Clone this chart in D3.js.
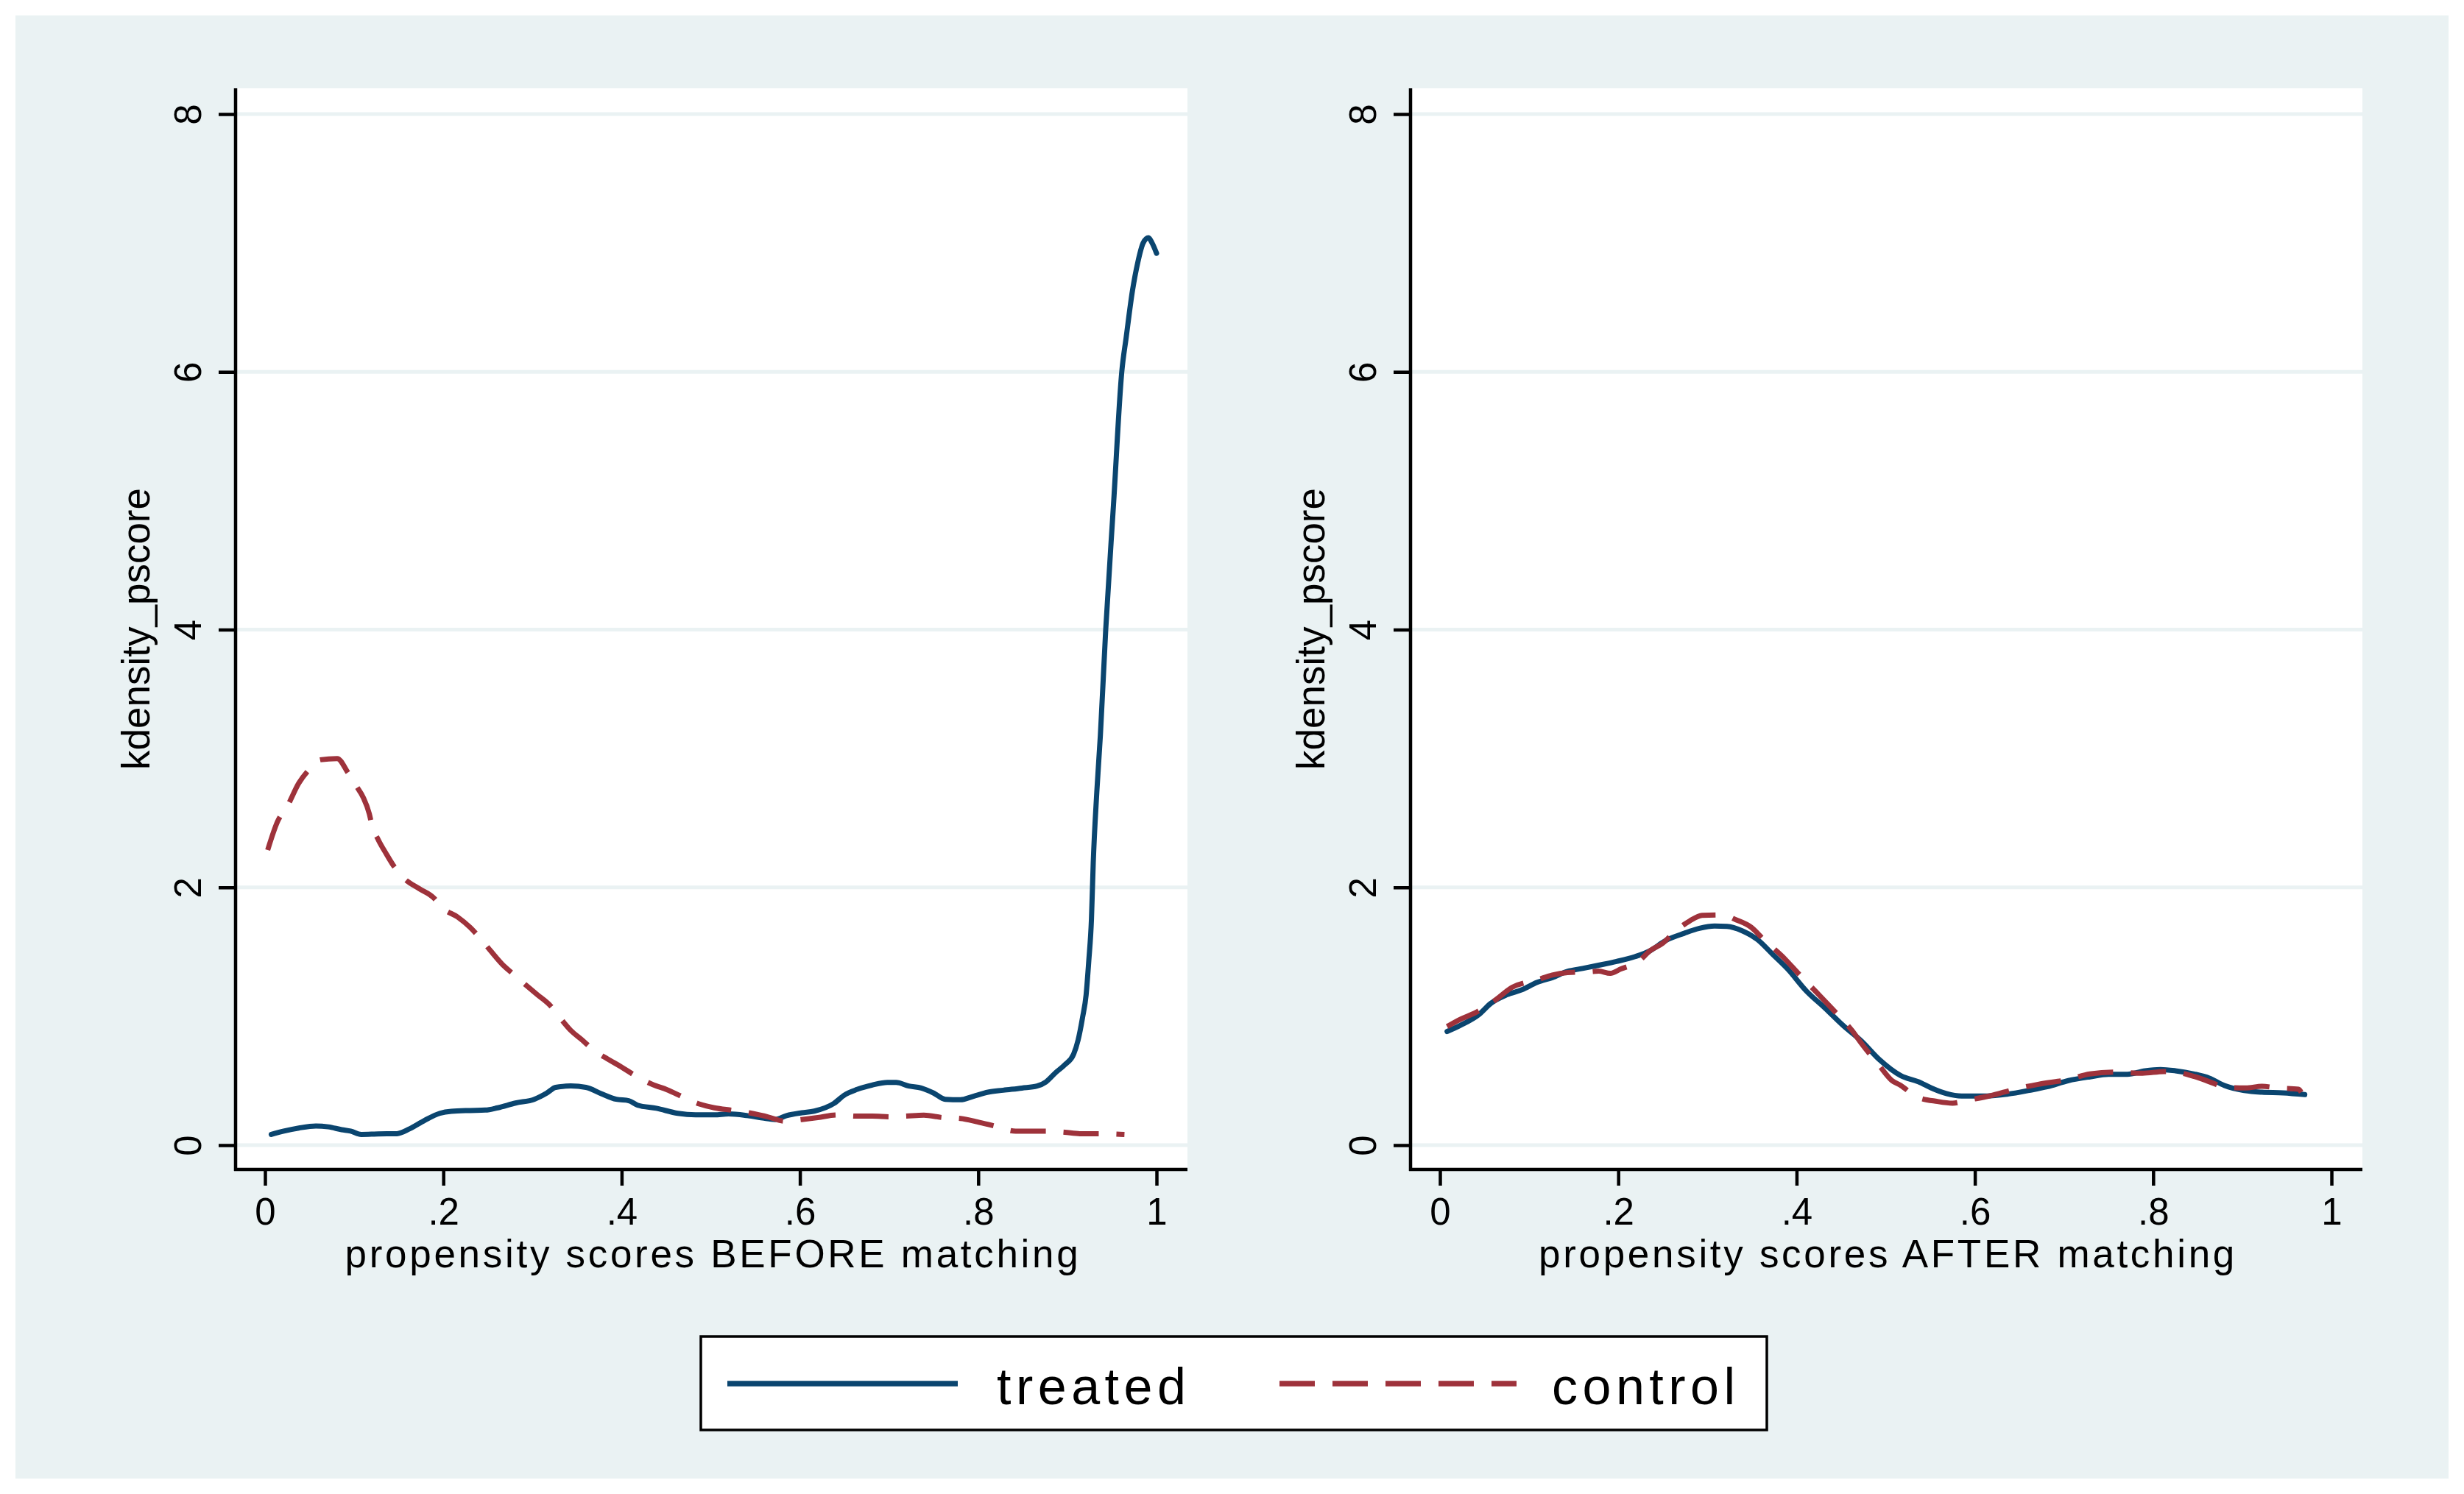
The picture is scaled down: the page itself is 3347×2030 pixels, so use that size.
<!DOCTYPE html>
<html>
<head>
<meta charset="utf-8">
<script src="https://cdn.jsdelivr.net/npm/d3@7"></script>
<style>
  body { margin: 0; background: #fff; }
  svg { display: block; }
</style>
</head>
<body>
<svg id="chart"></svg>
<script>
// kernel density of the propensity score: [pscore, density]
const beforeTreated = [
  [0.007,0.083],[0.021,0.109],[0.038,0.133],[0.057,0.149],[0.071,0.142],[0.086,0.12],[0.096,0.109],
  [0.108,0.083],[0.127,0.087],[0.148,0.089],[0.162,0.126],[0.179,0.192],[0.196,0.247],[0.209,0.263],
  [0.230,0.269],[0.247,0.272],[0.261,0.29],[0.281,0.327],[0.302,0.356],[0.316,0.404],[0.326,0.448],
  [0.343,0.459],[0.360,0.448],[0.377,0.40],[0.394,0.356],[0.408,0.345],[0.418,0.31],[0.439,0.286],
  [0.463,0.247],[0.483,0.236],[0.504,0.236],[0.520,0.242],[0.541,0.229],[0.558,0.211],[0.572,0.199],
  [0.585,0.229],[0.602,0.251],[0.616,0.264],[0.638,0.323],[0.650,0.389],[0.664,0.432],[0.681,0.466],
  [0.698,0.487],[0.708,0.487],[0.722,0.459],[0.736,0.443],[0.750,0.404],[0.763,0.356],[0.780,0.352],
  [0.794,0.378],[0.811,0.411],[0.828,0.426],[0.849,0.443],[0.866,0.459],[0.876,0.491],[0.887,0.564],
  [0.897,0.623],[0.907,0.706],[0.912,0.815],[0.917,0.99],[0.921,1.166],[0.924,1.43],[0.927,1.755],
  [0.929,2.19],[0.933,2.74],[0.937,3.18],[0.943,4.0],[0.952,5.0],[0.961,6.0],[0.966,6.27],
  [0.973,6.63],[0.979,6.85],[0.985,7.0],[0.991,7.04],[0.995,7.0],[1.0,6.92]
];
const beforeControl = [
  [0.003,2.29],[0.014,2.51],[0.025,2.63],[0.038,2.81],[0.049,2.91],[0.062,2.99],[0.081,3.0],
  [0.093,2.89],[0.103,2.78],[0.110,2.70],[0.117,2.57],[0.120,2.48],[0.127,2.37],[0.136,2.26],
  [0.144,2.17],[0.156,2.07],[0.173,1.99],[0.189,1.92],[0.199,1.84],[0.216,1.77],[0.230,1.69],
  [0.242,1.60],[0.254,1.50],[0.268,1.39],[0.278,1.33],[0.293,1.24],[0.305,1.17],[0.319,1.09],
  [0.333,0.97],[0.343,0.89],[0.355,0.82],[0.370,0.73],[0.384,0.67],[0.399,0.61],[0.420,0.52],
  [0.435,0.47],[0.451,0.43],[0.470,0.37],[0.487,0.32],[0.504,0.29],[0.525,0.27],[0.544,0.25],
  [0.561,0.225],[0.584,0.186],[0.602,0.199],[0.620,0.214],[0.642,0.234],[0.664,0.225],[0.681,0.225],
  [0.702,0.22],[0.719,0.225],[0.739,0.232],[0.760,0.214],[0.780,0.207],[0.799,0.181],[0.818,0.149],
  [0.842,0.109],[0.857,0.109],[0.878,0.109],[0.897,0.10],[0.914,0.089],[0.934,0.089],[0.964,0.083]
];
const afterTreated = [
  [0.008,0.882],[0.023,0.93],[0.044,1.015],[0.057,1.10],[0.075,1.167],[0.092,1.206],[0.109,1.263],
  [0.126,1.30],[0.143,1.349],[0.160,1.371],[0.178,1.396],[0.198,1.425],[0.219,1.463],[0.236,1.51],
  [0.253,1.587],[0.274,1.644],[0.291,1.682],[0.308,1.70],[0.322,1.697],[0.339,1.663],[0.356,1.596],
  [0.373,1.482],[0.390,1.367],[0.411,1.196],[0.432,1.063],[0.452,0.93],[0.473,0.806],[0.493,0.663],
  [0.517,0.539],[0.537,0.491],[0.551,0.444],[0.568,0.40],[0.585,0.381],[0.613,0.381],[0.637,0.396],
  [0.661,0.425],[0.681,0.453],[0.705,0.501],[0.729,0.53],[0.750,0.549],[0.771,0.549],[0.791,0.577],
  [0.808,0.587],[0.825,0.577],[0.846,0.552],[0.863,0.52],[0.880,0.463],[0.901,0.425],[0.922,0.411],
  [0.946,0.406],[0.970,0.392]
];
const afterControl = [
  [0.008,0.92],[0.023,0.977],[0.040,1.029],[0.061,1.12],[0.081,1.225],[0.109,1.282],[0.126,1.32],
  [0.143,1.339],[0.166,1.345],[0.178,1.35],[0.191,1.333],[0.203,1.367],[0.222,1.421],[0.236,1.51],
  [0.250,1.568],[0.263,1.653],[0.280,1.739],[0.294,1.783],[0.317,1.787],[0.332,1.749],[0.349,1.691],
  [0.363,1.596],[0.387,1.444],[0.401,1.339],[0.425,1.167],[0.438,1.072],[0.462,0.891],[0.473,0.787],
  [0.493,0.615],[0.507,0.501],[0.517,0.463],[0.534,0.377],[0.558,0.339],[0.575,0.326],[0.592,0.349],
  [0.616,0.381],[0.647,0.438],[0.671,0.472],[0.705,0.51],[0.729,0.552],[0.757,0.567],[0.788,0.558],
  [0.812,0.571],[0.825,0.567],[0.846,0.533],[0.867,0.482],[0.880,0.449],[0.904,0.444],[0.922,0.457],
  [0.939,0.444],[0.963,0.434],[0.966,0.411]
];

const xTicks = [0, 0.2, 0.4, 0.6, 0.8, 1];
const xTickLabels = ['0', '.2', '.4', '.6', '.8', '1'];
const yTicks = [0, 2, 4, 6, 8];
const panelTitles = ['propensity scores BEFORE matching', 'propensity scores AFTER matching'];
const yTitle = 'kdensity_pscore';
const seriesNames = ['treated', 'control'];

const W = 3347, H = 2030;
const FONT = '"Liberation Sans", Arial, Helvetica, sans-serif';
const NAVY = '#0a456f', MAROON = '#9e323b', BG = '#eaf2f3';
const DASH = '48 24';

const svg = d3.select('#chart').attr('width', W).attr('height', H);

// graph region
svg.append('rect')
  .attr('x', 21).attr('y', 21)
  .attr('width', W - 42).attr('height', H - 42)
  .attr('fill', BG);

// plot region box (same for both panels, second one shifted)
const plot = { left: 320, right: 1613, top: 120, bottom: 1589 };
const x = d3.scaleLinear().domain([0, 1]).range([360, 1571]);
const y = d3.scaleLinear().domain([0, 8]).range([1556, 155]);
const line = d3.line()
  .x(d => x(d[0]))
  .y(d => y(d[1]))
  .curve(d3.curveMonotoneX);

const panels = [
  { offset: 0, title: panelTitles[0], treated: beforeTreated, control: beforeControl },
  { offset: 1596, title: panelTitles[1], treated: afterTreated, control: afterControl }
];

panels.forEach(p => {
  let g = svg.append('g').attr('transform', `translate(${p.offset},0)`);

  g.append('rect')
    .attr('x', plot.left).attr('y', plot.top)
    .attr('width', plot.right - plot.left).attr('height', plot.bottom - plot.top)
    .attr('fill', '#fff');

  // gridlines
  g.selectAll('.grid')
    .data(yTicks)
    .join('line')
    .attr('class', 'grid')
    .attr('x1', plot.left).attr('x2', plot.right)
    .attr('y1', d => y(d)).attr('y2', d => y(d))
    .attr('stroke', BG).attr('stroke-width', 5);

  g.append('path')
    .datum(p.treated)
    .attr('d', line)
    .attr('fill', 'none')
    .attr('stroke', NAVY)
    .attr('stroke-width', 7)
    .attr('stroke-linejoin', 'round')
    .attr('stroke-linecap', 'round');

  g.append('path')
    .datum(p.control)
    .attr('d', line)
    .attr('fill', 'none')
    .attr('stroke', MAROON)
    .attr('stroke-width', 7)
    .attr('stroke-linejoin', 'round')
    .attr('stroke-dasharray', DASH);

  // x axis
  let xAxis = g.append('g')
    .attr('transform', `translate(0,${plot.bottom})`)
    .call(d3.axisBottom(x).tickValues(xTicks).tickFormat((d, i) => xTickLabels[i]).tickSize(22));
  xAxis.select('.domain').remove();
  xAxis.attr('font-family', FONT).attr('font-size', 51);
  xAxis.selectAll('line').attr('stroke', '#000').attr('stroke-width', 4.5);
  xAxis.selectAll('text').attr('y', 75).attr('dy', null).attr('fill', '#000');

  // y axis
  let yAxis = g.append('g')
    .attr('transform', `translate(${plot.left},0)`)
    .call(d3.axisLeft(y).tickValues(yTicks).tickSize(23));
  yAxis.select('.domain').remove();
  yAxis.attr('font-family', FONT).attr('font-size', 51);
  yAxis.selectAll('line').attr('stroke', '#000').attr('stroke-width', 4.5);
  yAxis.selectAll('text')
    .attr('x', null).attr('dy', null)
    .attr('text-anchor', 'middle')
    .attr('transform', 'translate(-47,0) rotate(-90)')
    .attr('fill', '#000');

  // axis lines
  g.append('line')
    .attr('x1', plot.left).attr('x2', plot.left)
    .attr('y1', plot.top).attr('y2', plot.bottom + 2)
    .attr('stroke', '#000').attr('stroke-width', 4.5);
  g.append('line')
    .attr('x1', plot.left - 2).attr('x2', plot.right)
    .attr('y1', plot.bottom).attr('y2', plot.bottom)
    .attr('stroke', '#000').attr('stroke-width', 4.5);

  // titles
  g.append('text')
    .attr('x', (plot.left + plot.right) / 2 + 2)
    .attr('y', 1722)
    .attr('text-anchor', 'middle')
    .attr('font-family', FONT).attr('font-size', 53)
    .attr('letter-spacing', '3.7px')
    .text(p.title);

  g.append('text')
    .attr('transform', `translate(203,${(plot.top + plot.bottom) / 2}) rotate(-90)`)
    .attr('text-anchor', 'middle')
    .attr('font-family', FONT).attr('font-size', 53)
    .text(yTitle);
});

// legend
let legend = svg.append('g');
legend.append('rect')
  .attr('x', 952).attr('y', 1816)
  .attr('width', 1448).attr('height', 127)
  .attr('fill', '#fff')
  .attr('stroke', '#000').attr('stroke-width', 3.5);

const legendItems = [
  { name: seriesNames[0], color: NAVY, dash: null, x1: 988, x2: 1301, tx: 1354 },
  { name: seriesNames[1], color: MAROON, dash: DASH, x1: 1738, x2: 2060, tx: 2108 }
];
legendItems.forEach(d => {
  legend.append('line')
    .attr('x1', d.x1).attr('x2', d.x2)
    .attr('y1', 1880).attr('y2', 1880)
    .attr('stroke', d.color).attr('stroke-width', 7.5)
    .attr('stroke-dasharray', d.dash);
  legend.append('text')
    .attr('x', d.tx).attr('y', 1908)
    .attr('font-family', FONT).attr('font-size', 70)
    .attr('letter-spacing', '6.5px')
    .text(d.name);
});
</script>
</body>
</html>
